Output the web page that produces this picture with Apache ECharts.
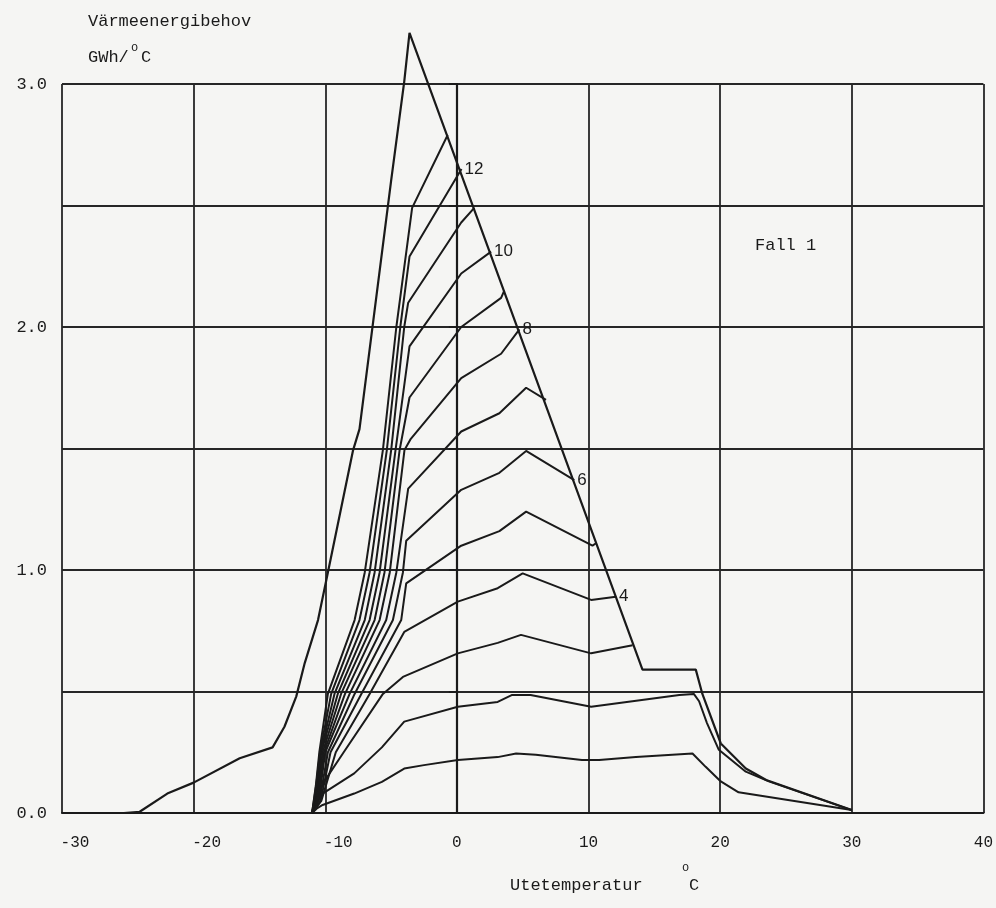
<!DOCTYPE html>
<html>
<head>
<meta charset="utf-8">
<script src="https://cdn.jsdelivr.net/npm/echarts@6/dist/echarts.min.js"></script>
<style>
html, body { margin: 0; padding: 0; background: #f5f5f3; }
#main { width: 996px; height: 908px; }
</style>
</head>
<body>
<div id="main"></div>
<script>
// axis ticks
var xTicks = [-30, -20, -10, 0, 10, 20, 30, 40];
var yTicks = [0.0, 1.0, 2.0, 3.0];

// outer curve (Utetemperatur, GWh/oC)
var envelope = [[-25.3,0],[-24.1,0.005],[-22.0,0.08],[-20.0,0.125],[-16.5,0.225],[-14.0,0.27],[-13.1,0.355],
  [-12.2,0.48],[-11.56,0.617],[-10.55,0.794],[-9.8,0.99],[-7.9,1.49],[-7.4,1.58],[-5.0,2.6],[-4.0,3.01],[-3.6,3.21],
  [14.1,0.59],[18.15,0.59],[18.65,0.49],[20.05,0.286],[21.95,0.183],[23.5,0.136],[30.0,0.012]];

// family of curves, numbered from the bottom
var curve1 = [[-11.0,0],[-10.6,0.02],[-10.2,0.033],[-7.8,0.08],[-5.7,0.128],[-4.0,0.183],[-2.5,0.197],[0.07,0.218],
  [3.1,0.23],[4.5,0.245],[6.0,0.24],[9.5,0.218],[10.8,0.218],[13.6,0.23],[17.9,0.245],[18.9,0.19],[20.05,0.13],[21.4,0.085],[30.0,0.012]];
var curve2 = [[-11.0,0],[-10.6,0.05],[-10.2,0.08],[-7.8,0.163],[-5.7,0.27],[-4.0,0.376],[0.07,0.437],[3.1,0.457],[4.2,0.486],
  [5.6,0.486],[10.2,0.437],[16.9,0.486],[18.0,0.49],[18.4,0.46],[19.0,0.37],[19.9,0.26],[21.95,0.17],[23.7,0.13],[30.0,0.012]];
var curve3 = [[-11.0,0],[-10.2,0.12],[-8.6,0.25],[-5.62,0.49],[-4.1,0.56],[0.07,0.657],[3.1,0.70],[4.87,0.733],[10.2,0.657],[13.35,0.69]];
var curve4 = [[-11.0,0],[-10.3,0.05],[-9.2,0.25],[-6.63,0.49],[-4.0,0.745],[0.07,0.87],[3.1,0.925],[5.0,0.986],[10.2,0.877],[12.08,0.89]];
var curve5 = [[-11.0,0],[-10.35,0.05],[-9.6,0.25],[-7.26,0.49],[-4.23,0.794],[-3.85,0.945],[0.33,1.10],[3.23,1.16],[5.26,1.24],[10.3,1.10],[10.57,1.11]];
var curve6 = [[-11.0,0],[-10.4,0.06],[-9.8,0.25],[-7.77,0.49],[-4.86,0.794],[-4.1,0.99],[-3.85,1.12],[0.33,1.33],[3.23,1.40],[5.26,1.49],[8.92,1.37]];
var curve7 = [[-11.0,0],[-10.45,0.07],[-10.0,0.25],[-8.15,0.49],[-5.37,0.794],[-4.6,0.99],[-3.7,1.335],[0.33,1.57],[3.23,1.645],[5.26,1.75],[6.77,1.70]];
var curve8 = [[-11.0,0],[-10.5,0.08],[-10.1,0.25],[-8.5,0.49],[-5.87,0.794],[-5.1,0.99],[-3.98,1.494],[-3.5,1.54],[0.33,1.79],[3.36,1.89],[4.75,1.99]];
var curve9 = [[-11.0,0],[-10.55,0.09],[-10.2,0.25],[-8.8,0.49],[-6.25,0.794],[-5.5,0.99],[-4.35,1.494],[-3.6,1.71],[0.33,2.0],[3.36,2.12],[3.6,2.15]];
var curve10 = [[-11.0,0],[-10.6,0.1],[-10.3,0.25],[-9.05,0.49],[-6.63,0.794],[-5.87,0.99],[-4.66,1.494],[-3.6,1.92],[0.33,2.22],[2.6,2.31]];
var curve11 = [[-11.0,0],[-10.65,0.1],[-10.35,0.25],[-9.3,0.49],[-7.0,0.794],[-6.25,0.99],[-4.99,1.494],[-4.0,2.0],[-3.7,2.1],[0.33,2.43],[1.32,2.49]];
var curve12 = [[-11.0,0],[-10.7,0.11],[-10.4,0.25],[-9.55,0.49],[-7.4,0.794],[-6.63,0.99],[-5.32,1.494],[-4.3,2.0],[-3.6,2.29],[0.35,2.65]];
var curve13 = [[-11.0,0],[-10.7,0.12],[-10.45,0.25],[-9.8,0.49],[-7.77,0.794],[-7.0,0.99],[-5.62,1.494],[-4.6,2.0],[-3.4,2.49],[-0.7,2.79]];

var curves = [curve1, curve2, curve3, curve4, curve5, curve6, curve7, curve8, curve9, curve10, curve11, curve12, curve13];
var curveLabels = ['', '', '', '4', '', '6', '', '8', '', '10', '', '12', ''];

var mono = '"Liberation Mono", "DejaVu Sans Mono", monospace';
var ink = '#1a1a1a';

var chart = echarts.init(document.getElementById('main'));

var series = [{
	type: 'line',
	data: envelope,
	showSymbol: false,
	clip: false,
	silent: true,
	lineStyle: { color: ink, width: 2.2 }
}];

for (var i = 0; i < curves.length; i++) {
	series.push({
		type: 'line',
		data: curves[i],
		showSymbol: false,
		clip: false,
		silent: true,
		lineStyle: { color: ink, width: 2 },
		endLabel: {
			show: curveLabels[i] !== '',
			formatter: curveLabels[i],
			distance: 3,
			color: ink,
			fontFamily: '"Liberation Sans", sans-serif',
			fontSize: 17
		}
	});
}

chart.setOption({
	backgroundColor: '#f5f5f3',
	animation: false,
	grid: { left: 62, right: 11, top: 84, bottom: 95 },
	xAxis: {
		type: 'value',
		min: xTicks[0],
		max: xTicks[xTicks.length - 1],
		interval: 10,
		axisLine: { lineStyle: { color: ink, width: 2.2 } },
		axisTick: { show: false },
		splitLine: { lineStyle: { color: '#262626', width: 1.8 } },
		axisLabel: {
			margin: 22,
			color: ink,
			fontFamily: mono,
			fontSize: 16,
			formatter: function (v) {
				return v < 0 ? '{neg|' + v + '}' : '' + v;
			},
			rich: { neg: { fontFamily: mono, fontSize: 16, color: ink, padding: [0, 0, 0, 26] } }
		}
	},
	yAxis: {
		type: 'value',
		min: 0,
		max: yTicks[yTicks.length - 1],
		interval: 0.5,
		axisLine: { show: true, lineStyle: { color: ink, width: 2.2 } },
		axisTick: { show: true, length: 8, lineStyle: { color: ink, width: 1.6 } },
		splitLine: { lineStyle: { color: '#262626', width: 1.8 } },
		axisLabel: {
			margin: 15,
			color: ink,
			fontFamily: mono,
			fontSize: 17,
			formatter: function (v) {
				return yTicks.indexOf(v) >= 0 ? v.toFixed(1) : '';
			}
		}
	},
	graphic: [
		{ type: 'text', left: 88, top: 13, style: { text: 'Värmeenergibehov', font: '17px ' + mono, fill: ink } },
		{ type: 'text', left: 88, top: 49, style: { text: 'GWh/', font: '17px ' + mono, fill: ink } },
		{ type: 'text', left: 131, top: 42, style: { text: 'o', font: '12px ' + mono, fill: ink } },
		{ type: 'text', left: 141, top: 49, style: { text: 'C', font: '17px ' + mono, fill: ink } },
		{ type: 'text', left: 755, top: 237, style: { text: 'Fall 1', font: '17px ' + mono, fill: ink } },
		{ type: 'text', left: 510, top: 877, style: { text: 'Utetemperatur', font: '17px ' + mono, fill: ink } },
		{ type: 'text', left: 682, top: 862, style: { text: 'o', font: '12px ' + mono, fill: ink } },
		{ type: 'text', left: 689, top: 877, style: { text: 'C', font: '17px ' + mono, fill: ink } }
	],
	series: series
});
</script>
</body>
</html>
